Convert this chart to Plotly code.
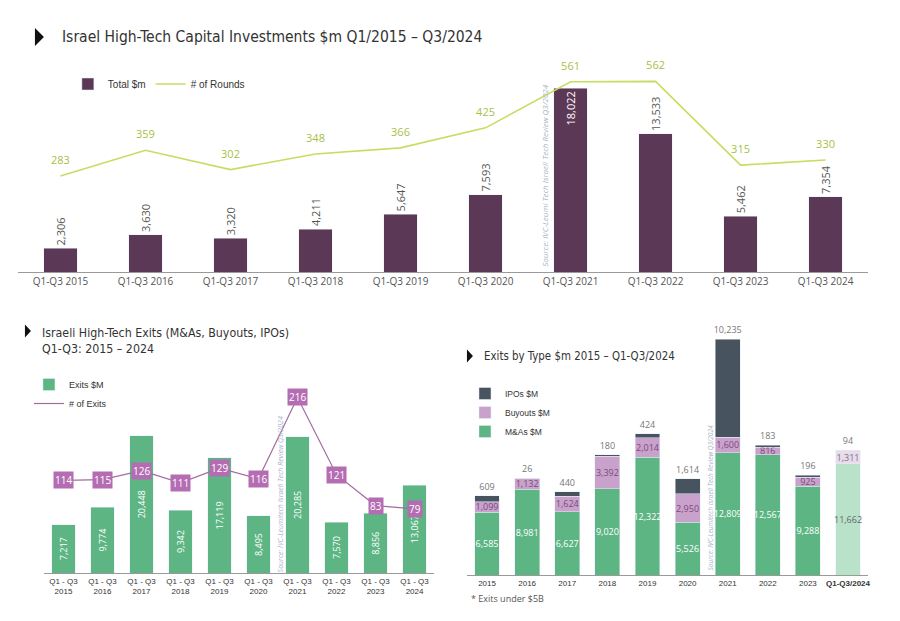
import plotly.graph_objects as go

# page body adds an 8px margin, so the figure is drawn 8px in from the top-left
OFF = 8
W, H = 900 - OFF, 621 - OFF

# --- panel 1: capital investments ---
inv_years = ['Q1-Q3 2015', 'Q1-Q3 2016', 'Q1-Q3 2017', 'Q1-Q3 2018', 'Q1-Q3 2019',
             'Q1-Q3 2020', 'Q1-Q3 2021', 'Q1-Q3 2022', 'Q1-Q3 2023', 'Q1-Q3 2024']
inv_total = [2306, 3630, 3320, 4211, 5647, 7593, 18022, 13533, 5462, 7354]
inv_rounds = [283, 359, 302, 348, 366, 425, 561, 562, 315, 330]

# --- panel 2: exits ---
exit_years = ['Q1 - Q3<br>2015', 'Q1 - Q3<br>2016', 'Q1 - Q3<br>2017', 'Q1 - Q3<br>2018',
              'Q1 - Q3<br>2019', 'Q1 - Q3<br>2020', 'Q1 - Q3<br>2021', 'Q1 - Q3<br>2022',
              'Q1 - Q3<br>2023', 'Q1 - Q3<br>2024']
exit_value = [7217, 9774, 20448, 9342, 17119, 8495, 20285, 7570, 8856, 13067]
exit_count = [114, 115, 126, 111, 129, 116, 216, 121, 83, 79]

# --- panel 3: exits by type ---
type_years = ['2015', '2016', '2017', '2018', '2019', '2020', '2021', '2022', '2023',
              '<b>Q1-Q3/2024</b>']
mna = [6585, 8981, 6627, 9020, 12322, 5526, 12809, 12567, 9288, 11662]
buyouts = [1099, 1132, 1624, 3392, 2014, 2950, 1600, 816, 925, 1311]
ipos = [609, 26, 440, 180, 424, 1614, 10235, 183, 196, 94]

PURPLE = '#5c3857'
LIME = '#c9dc62'
GREEN = '#5db584'
MAUVE = '#c9a2cb'
SLATE = '#47535f'
TITLE_FONT = 'Liberation Sans Narrow, DejaVu Sans Condensed, Roboto, sans-serif'


def px(x):
    return (x - OFF) / W


def py(y):
    return 1 - (y - OFF) / H


fig = go.Figure()

# panel 1
fig.add_trace(go.Bar(
    x=inv_years, y=inv_total, name='Total $m', marker_color=PURPLE, width=0.39,
    text=[f'{v:,}' for v in inv_total], textangle=-90,
    textposition=['inside' if v == max(inv_total) else 'outside' for v in inv_total],
    insidetextanchor='end', constraintext='none', cliponaxis=False,
    insidetextfont=dict(color='white', size=11, family='Open Sans'),
    outsidetextfont=dict(color='#555', size=11, family='Open Sans'),
    xaxis='x', yaxis='y', legend='legend'))
fig.add_trace(go.Scatter(
    x=inv_years, y=inv_rounds, name='# of Rounds', mode='lines+markers+text',
    line=dict(color=LIME, width=1.6), marker=dict(size=13, color='rgba(0,0,0,0)'),
    text=[str(v) for v in inv_rounds],
    textposition='top center', cliponaxis=False,
    textfont=dict(color='#a8bf45', size=11, family='Open Sans'),
    xaxis='x', yaxis='y2', legend='legend'))

# panel 2
fig.add_trace(go.Bar(
    x=exit_years, y=exit_value, name='Exits $M', marker_color=GREEN, width=0.6,
    text=[f'{v:,}' for v in exit_value], textangle=-90, textposition='inside',
    insidetextanchor='middle', constraintext='none',
    insidetextfont=dict(color='white', size=9, family='Open Sans'),
    xaxis='x2', yaxis='y3', legend='legend2'))
fig.add_trace(go.Scatter(
    x=exit_years, y=exit_count, name='# of Exits', mode='lines',
    line=dict(color='#a46b9f', width=1.2),
    xaxis='x2', yaxis='y4', legend='legend2'))

# panel 3
last = len(type_years) - 1
fig.add_trace(go.Bar(
    x=type_years, y=mna, name='M&As $M', width=0.62,
    marker_color=[GREEN if i < last else '#b9e2ca' for i in range(len(mna))],
    text=[f'{v:,}' for v in mna], textposition='inside', insidetextanchor='middle',
    textangle=0, constraintext='none',
    textfont=dict(color=['white' if i < last else '#666' for i in range(len(mna))],
                  size=9, family='Open Sans'),
    xaxis='x3', yaxis='y5', legend='legend3'))
fig.add_trace(go.Bar(
    x=type_years, y=buyouts, name='Buyouts $M', width=0.62,
    marker_color=[MAUVE if i < last else '#e9dbec' for i in range(len(buyouts))],
    text=[f'{v:,}' for v in buyouts], textposition='inside', insidetextanchor='middle',
    textangle=0, constraintext='none',
    textfont=dict(color=['#7a4a7c' if i < last else '#777' for i in range(len(buyouts))],
                  size=9, family='Open Sans'),
    xaxis='x3', yaxis='y5', legend='legend3'))
fig.add_trace(go.Bar(
    x=type_years, y=ipos, name='IPOs $M', width=0.62,
    marker_color=[SLATE if i < last else '#dddddd' for i in range(len(ipos))],
    text=[f'{v:,}' for v in ipos], textposition='outside', textangle=0,
    constraintext='none', cliponaxis=False,
    textfont=dict(color='#777', size=9, family='Open Sans'),
    xaxis='x3', yaxis='y5', legend='legend3'))

# boxed labels on the exits line
annotations = []
for cat, val in zip(exit_years, exit_count):
    annotations.append(dict(
        x=cat, y=val, xref='x2', yref='y4', text=str(val), showarrow=False,
        xanchor='center', yanchor='middle',
        bgcolor='#b46db2', borderpad=1, font=dict(color='white', size=10, family='Open Sans')))

# titles and notes
notes = [
    dict(x=px(60), y=py(37), text='Israel High-Tech Capital Investments $m Q1/2015 – Q3/2024',
         font=dict(size=15.5, color='#333', family=TITLE_FONT)),
    dict(x=px(40), y=py(341), align='left',
         text='Israeli High-Tech Exits (M&As, Buyouts, IPOs)<br>Q1-Q3: 2015 – 2024',
         font=dict(size=12.3, color='#333', family=TITLE_FONT)),
    dict(x=px(483), y=py(356), text='Exits by Type $m 2015 – Q1-Q3/2024',
         font=dict(size=11.4, color='#333', family=TITLE_FONT)),
    dict(x=px(470), y=py(598), text='* Exits under $5B',
         font=dict(size=9, color='#555', family='Open Sans')),
]
for a in notes:
    a.update(xref='paper', yref='paper', xanchor='left', yanchor='middle', showarrow=False)
annotations += notes

sources = [
    (545, 176, 'Source: IVC-Leumi Tech Israeli Tech Review Q3/2024', 8),
    (281, 494, 'Source: IVC-Leumitech Israeli Tech Review Q3/2024', 7),
    (712, 498, 'Source: IVC-Leumitech Israeli Tech Review Q3/2024', 6.5),
]
for x, y, t, s in sources:
    annotations.append(dict(
        x=px(x), y=py(y), xref='paper', yref='paper', text=f'<i>{t}</i>', textangle=-90,
        xanchor='center', yanchor='middle',
        showarrow=False, font=dict(size=s, color='#aab3c6', family='Open Sans')))


def tri(x, y, h, w):
    return dict(type='path', xref='paper', yref='paper', fillcolor='#111', line_width=0,
                path=f'M {px(x)},{py(y - h / 2)} L {px(x + w)},{py(y)} '
                     f'L {px(x)},{py(y + h / 2)} Z')


shapes = [tri(35, 37, 18, 9), tri(25, 331, 13, 6), tri(468, 356, 13, 6)]

axis_common = dict(showgrid=False, zeroline=False, showline=True, linecolor='#9a9a9a',
                   ticks='', fixedrange=True)
hidden = dict(visible=False, showgrid=False, zeroline=False, fixedrange=True)

fig.update_layout(
    width=W, height=H, margin=dict(l=0, r=0, t=0, b=0),
    paper_bgcolor='white', plot_bgcolor='white', barmode='stack',
    font=dict(family='Open Sans', color='#444'),
    xaxis=dict(domain=[px(18), px(870)], anchor='y', range=[-0.5, 9.5],
               tickfont=dict(size=10, color='#555', family='Open Sans'), **axis_common),
    yaxis=dict(domain=[py(272), py(60)], range=[0, 20784], anchor='x', **hidden),
    yaxis2=dict(overlaying='y', range=[0, 625], anchor='x', **hidden),
    xaxis2=dict(domain=[px(44), px(435)], anchor='y3', range=[-0.5, 9.5],
                tickfont=dict(size=8, color='#333', family='Liberation Sans'), **axis_common),
    yaxis3=dict(domain=[py(573), py(380)], range=[0, 28722], anchor='x2', **hidden),
    yaxis4=dict(overlaying='y3', range=[0, 237.5], anchor='x2', **hidden),
    xaxis3=dict(domain=[px(468), px(870)], anchor='y5', range=[-0.5, 9.5],
                tickfont=dict(size=8, color='#333', family='Liberation Sans'), **axis_common),
    yaxis5=dict(domain=[py(575), py(325)], range=[0, 26150], anchor='x3', **hidden),
    legend=dict(orientation='h', x=px(68), y=py(84), xanchor='left', yanchor='middle',
                traceorder='normal',
                font=dict(size=10, color='#333', family='Liberation Sans'),
                bgcolor='rgba(0,0,0,0)'),
    legend2=dict(orientation='v', x=px(29), y=py(370), xanchor='left', yanchor='top',
                 traceorder='normal',
                 font=dict(size=9, color='#333', family='Liberation Sans'),
                 bgcolor='rgba(0,0,0,0)'),
    legend3=dict(orientation='v', x=px(466), y=py(379), xanchor='left', yanchor='top',
                 traceorder='reversed',
                 font=dict(size=8.5, color='#333', family='Liberation Sans'),
                 bgcolor='rgba(0,0,0,0)'),
    annotations=annotations, shapes=shapes,
)

fig.write_html('out.html')
